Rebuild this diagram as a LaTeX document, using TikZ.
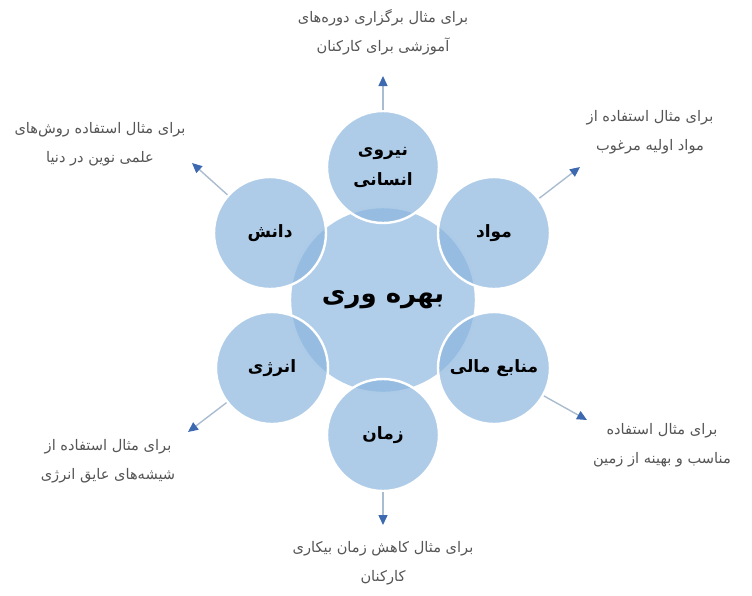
\documentclass[tikz,border=0pt]{standalone}
\usepackage{fontspec}
\usetikzlibrary{positioning,arrows.meta}
\newfontfamily\farsi[Script=Arabic]{DejaVu Sans}
\TeXXeTstate=1
\definecolor{coreblue}{RGB}{176,206,234}
\definecolor{petalblue}{RGB}{139,182,222}
\definecolor{tipblue}{RGB}{60,105,175}
\definecolor{lineblue}{RGB}{170,188,208}
\definecolor{notegray}{RGB}{85,85,85}
\tikzset{
	core/.style={circle, fill=coreblue, draw=white, line width=1.2pt, minimum size=93pt, font=\farsi\bfseries\fontsize{13}{16}\selectfont},
	petal/.style={circle, fill=petalblue, fill opacity=0.7, text opacity=1, draw=white, draw opacity=1, line width=1.2pt, minimum size=56pt, align=center, font=\farsi\bfseries\fontsize{8.5}{15}\selectfont},
	note/.style={align=center, text=notegray, font=\farsi\fontsize{7.3}{14.5}\selectfont},
	arr/.style={lineblue, line width=0.7pt, -{Triangle[length=5pt,width=4.5pt,color=tipblue]}}
}
\begin{document}
\begin{tikzpicture}[x=0.5pt,y=-0.5pt]
	\useasboundingbox (0,0) rectangle (752,596);
	
	% center
	\node[core] (bahrevari) at (383,300) {\beginR بهره وری\endR};
	
	% satellites
	\node[petal] (niru) at (383,167) {\beginR نیروی\endR\\\beginR انسانی\endR};
	\node[petal] (mavad) at (494,233) {\beginR مواد\endR};
	\node[petal] (manabe) at (494,368) {\beginR منابع مالی\endR};
	\node[petal] (zaman) at (383,435) {\beginR زمان\endR};
	\node[petal] (energy) at (272,368) {\beginR انرژی\endR};
	\node[petal] (danesh) at (270,233) {\beginR دانش\endR};
	
	% arrow ends
	\coordinate (tniru) at (383,76);
	\coordinate (tmavad) at (580,167);
	\coordinate (tmanabe) at (587,420);
	\coordinate (tzaman) at (383,525);
	\coordinate (tenergy) at (188,432);
	\coordinate (tdanesh) at (192,163);
	
	\draw[arr] (niru) -- (tniru);
	\draw[arr] (mavad) -- (tmavad);
	\draw[arr] (manabe) -- (tmanabe);
	\draw[arr] (zaman) -- (tzaman);
	\draw[arr] (energy) -- (tenergy);
	\draw[arr] (danesh) -- (tdanesh);
	
	% notes
	\node[note] (nniru) at (383,32) {\beginR برای مثال برگزاری دوره‌های\endR\\\beginR آموزشی برای کارکنان\endR};
	\node[note] (nmavad) at (650,132) {\beginR برای مثال استفاده از\endR\\\beginR مواد اولیه مرغوب\endR};
	\node[note] (nmanabe) at (662,445) {\beginR برای مثال استفاده\endR\\\beginR مناسب و بهینه از زمین\endR};
	\node[note] (nzaman) at (383,563) {\beginR برای مثال کاهش زمان بیکاری\endR\\\beginR کارکنان\endR};
	\node[note] (nenergy) at (108,461) {\beginR برای مثال استفاده از\endR\\\beginR شیشه‌های عایق انرژی\endR};
	\node[note] (ndanesh) at (100,144) {\beginR برای مثال استفاده روش‌های\endR\\\beginR علمی نوین در دنیا\endR};
\end{tikzpicture}
\end{document}
